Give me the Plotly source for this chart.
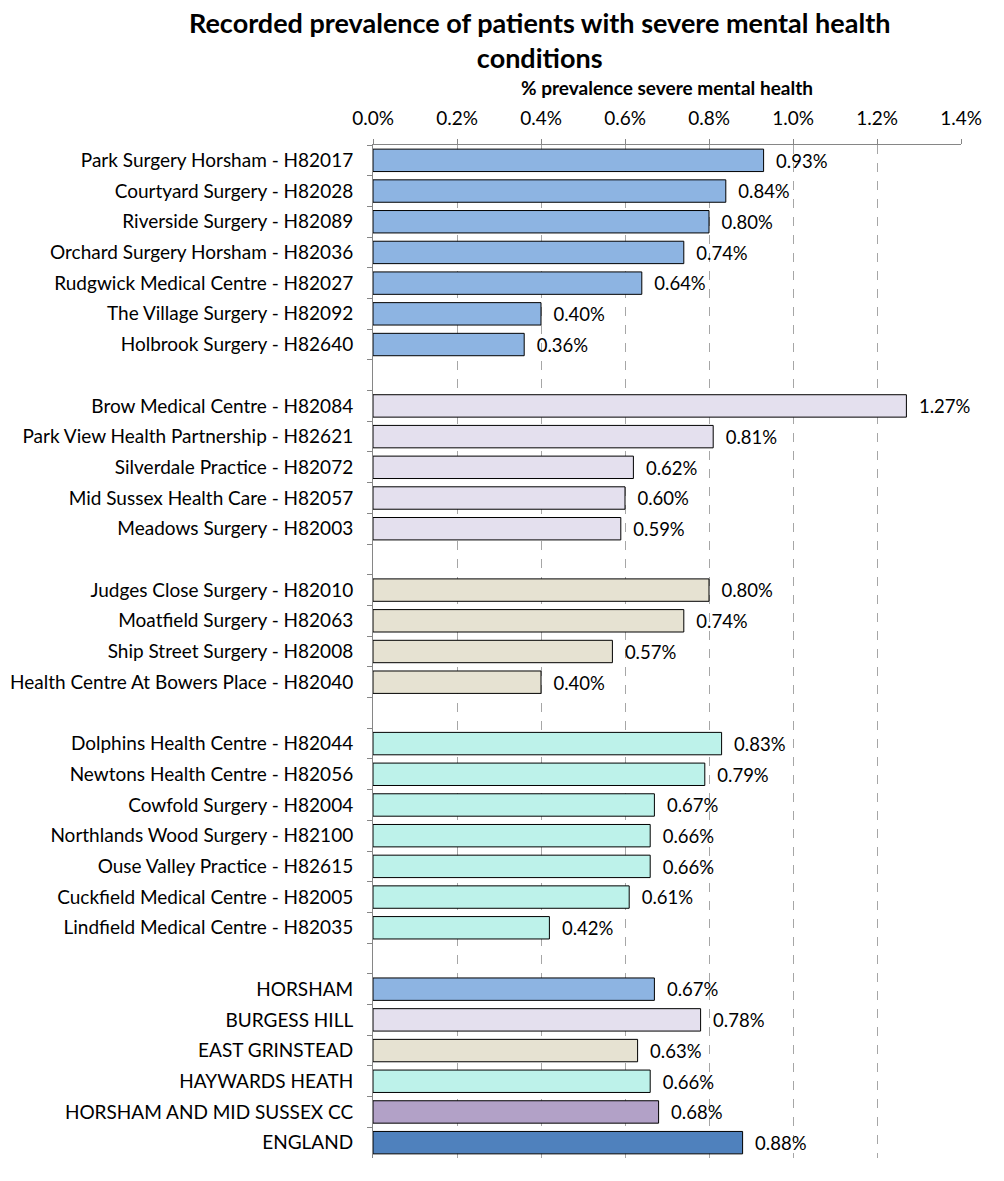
import plotly.graph_objects as go

categories = [
    "Park Surgery Horsham - H82017", "Courtyard Surgery - H82028", "Riverside Surgery - H82089",
    "Orchard Surgery Horsham - H82036", "Rudgwick Medical Centre - H82027", "The Village Surgery - H82092",
    "Holbrook Surgery - H82640", " ",
    "Brow Medical Centre - H82084", "Park View Health Partnership - H82621", "Silverdale Practice - H82072",
    "Mid Sussex Health Care - H82057", "Meadows Surgery - H82003", "  ",
    "Judges Close Surgery - H82010", "Moatfield Surgery - H82063", "Ship Street Surgery - H82008",
    "Health Centre At Bowers Place - H82040", "   ",
    "Dolphins Health Centre - H82044", "Newtons Health Centre - H82056", "Cowfold Surgery - H82004",
    "Northlands Wood Surgery - H82100", "Ouse Valley Practice - H82615", "Cuckfield Medical Centre - H82005",
    "Lindfield Medical Centre - H82035", "    ",
    "HORSHAM", "BURGESS HILL", "EAST GRINSTEAD", "HAYWARDS HEATH", "HORSHAM AND MID SUSSEX CC", "ENGLAND",
]
values_pct = [
    0.93, 0.84, 0.80, 0.74, 0.64, 0.40, 0.36, None,
    1.27, 0.81, 0.62, 0.60, 0.59, None,
    0.80, 0.74, 0.57, 0.40, None,
    0.83, 0.79, 0.67, 0.66, 0.66, 0.61, 0.42, None,
    0.67, 0.78, 0.63, 0.66, 0.68, 0.88,
]
groups = (["horsham"] * 7 + [None] + ["burgess"] * 5 + [None] + ["east"] * 4 + [None]
          + ["haywards"] * 7 + [None]
          + ["horsham", "burgess", "east", "haywards", "ccg", "england"])
tick_vals = [0, 0.002, 0.004, 0.006, 0.008, 0.010, 0.012, 0.014]

palette = {
    "horsham": "#8DB4E2", "burgess": "#E4E0EE", "east": "#E6E2D2",
    "haywards": "#BDF2EA", "ccg": "#B2A1C7", "england": "#4F81BD", None: "rgba(0,0,0,0)",
}
x_vals = [v / 100 if v is not None else None for v in values_pct]
colors = [palette[g] for g in groups]

font = "Lato"
fig = go.Figure(go.Bar(
    y=categories, x=x_vals, orientation="h",
    marker=dict(color=colors, line=dict(color="#000000", width=1)),
    texttemplate="  %{x:.2%}", textposition="outside", cliponaxis=False,
    textfont=dict(family=font, size=19, color="#000000"),
    hoverinfo="skip",
))
fig.update_layout(
    width=1004, height=1181,
    margin=dict(l=365, r=51, t=137, b=31, autoexpand=False),
    paper_bgcolor="white", plot_bgcolor="white",
    bargap=0.27, showlegend=False,
    annotations=[dict(
        text="<b>Recorded prevalence of patients with severe mental health<br>conditions</b>",
        xref="paper", yref="paper", x=(539 - 373) / 588, y=1 + (145 - 40) / 1013,
        xanchor="center", yanchor="middle", showarrow=False, align="center",
        font=dict(family=font, size=27, color="#000000"),
    )],
)
fig.update_xaxes(
    side="top", range=[0, 0.014], tickvals=tick_vals, tickformat=".1%",
    showgrid=True, gridcolor="#A6A6A6", griddash="dash", gridwidth=1,
    showline=True, linecolor="#868686", linewidth=1,
    ticks="outside", ticklen=5, tickcolor="#868686", ticklabelstandoff=6,
    tickfont=dict(family=font, size=19, color="#000000"),
    title=dict(text="<b>% prevalence severe mental health</b>", standoff=5,
               font=dict(family=font, size=19, color="#000000")),
    zeroline=False, automargin=False,
)
fig.update_yaxes(
    type="category", categoryorder="array", categoryarray=categories,
    autorange="reversed", tickson="boundaries",
    ticks="outside", ticklen=5, tickcolor="#868686", ticklabelstandoff=15,
    showline=True, linecolor="#868686", linewidth=1, showgrid=False,
    tickfont=dict(family=font, size=19, color="#000000"),
    automargin=False,
)
fig.write_html("out.html")
